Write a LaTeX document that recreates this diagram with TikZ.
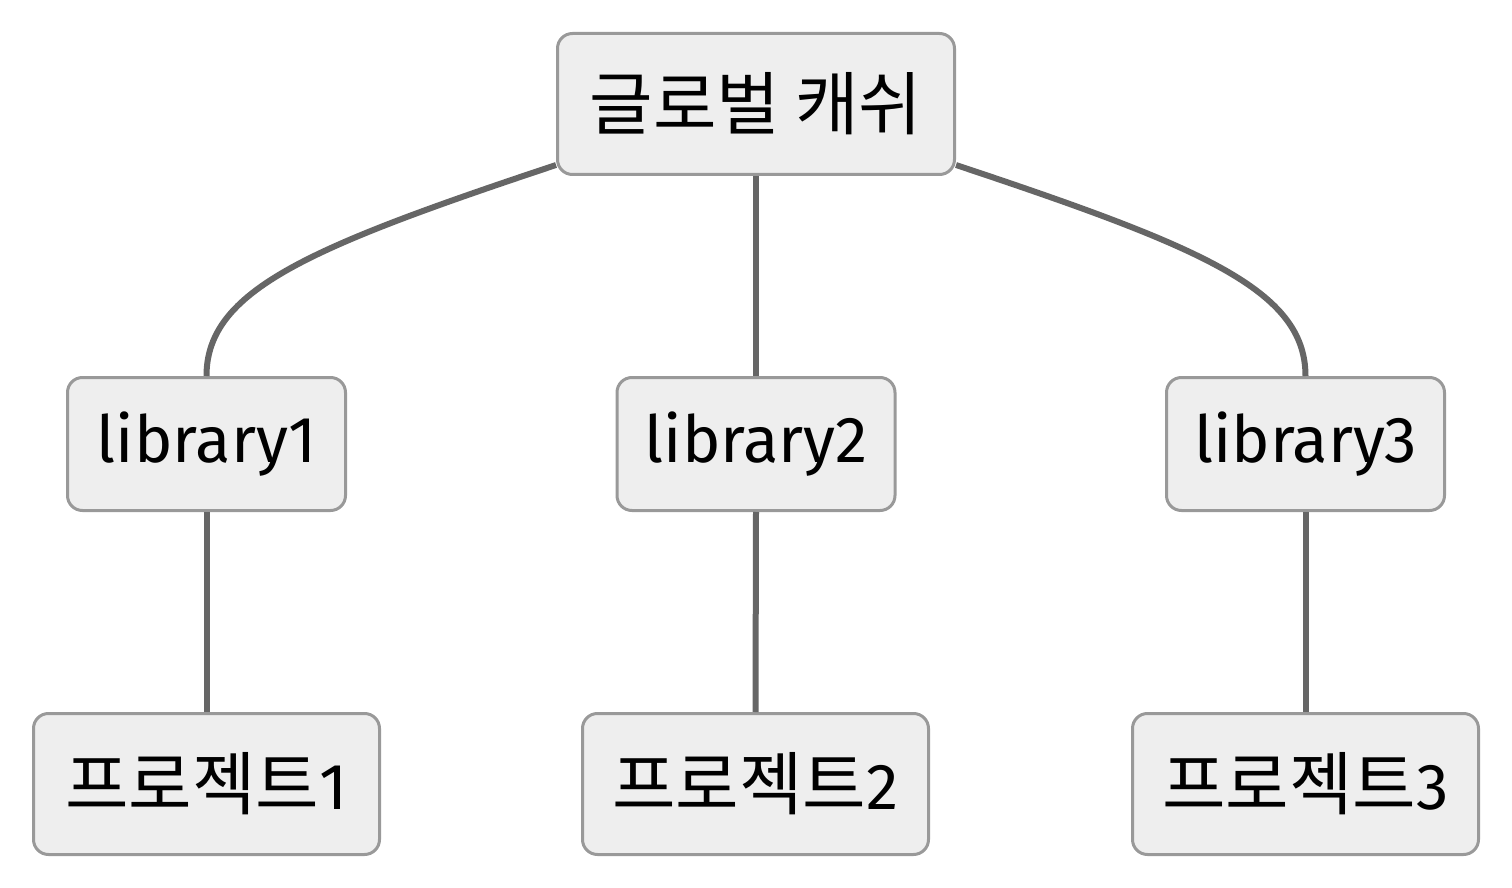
\documentclass[tikz,border=0pt]{standalone}
\usepackage{fontspec}
\setmainfont{Fira Sans}
\newfontfamily\kr{Noto Sans CJK KR}
\usetikzlibrary{calc}
\definecolor{boxfill}{RGB}{238, 238, 238}
\definecolor{boxline}{RGB}{153, 153, 153}
\definecolor{edgegray}{RGB}{102, 102, 102}
\newcommand{\krtext}[1]{{\kr\fontsize{34.5}{40}\selectfont #1}}
\tikzset{
  box/.style = {draw = boxline, fill = boxfill, line width = 1.5pt, rounded corners = 7.5pt, inner sep = 0pt, font = \fontsize{32.5}{38}\selectfont},
  link/.style = {draw = edgegray, line width = 3pt}
}

\begin{document}
\begin{tikzpicture}[x = 0.5pt, y = -0.5pt]
\useasboundingbox (0,0) rectangle (1512,888);

\node[box, minimum width = 198.5pt, minimum height = 70.5pt] (top) at (756,104) {\krtext{글로벌 캐쉬}};

\node[box, minimum width = 139pt, minimum height = 66.5pt] (lib1) at (206.5,444) {library1};
\node[box, minimum width = 139pt, minimum height = 66.5pt] (lib2) at (756,444) {library2};
\node[box, minimum width = 139pt, minimum height = 66.5pt] (lib3) at (1305.5,444) {library3};

\node[box, minimum width = 173pt, minimum height = 70.5pt] (proj1) at (206.5,784) {\krtext{프로젝트}1};
\node[box, minimum width = 173pt, minimum height = 70.5pt] (proj2) at (755.5,784) {\krtext{프로젝트}2};
\node[box, minimum width = 173pt, minimum height = 70.5pt] (proj3) at (1305.5,784) {\krtext{프로젝트}3};

\coordinate (topl) at ([yshift = 5.5pt] top.south west);
\coordinate (topr) at ([yshift = 5.5pt] top.south east);

\draw[link] (topl) .. controls (310,247) and (206.5,290) .. (lib1.north);
\draw[link] (top.south) -- (lib2.north);
\draw[link] (topr) .. controls (1202,247) and (1305.5,290) .. (lib3.north);

\draw[link] (lib1.south) -- (proj1.north);
\draw[link] (lib2.south) -- (proj2.north);
\draw[link] (lib3.south) -- (proj3.north);

\end{tikzpicture}
\end{document}
